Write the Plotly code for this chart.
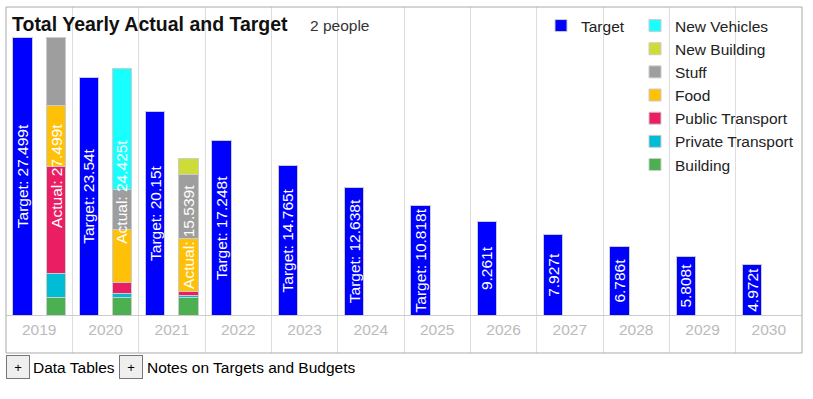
import plotly.graph_objects as go

# ---------------- data ----------------
years = ["2019", "2020", "2021", "2022", "2023", "2024",
         "2025", "2026", "2027", "2028", "2029", "2030"]
target = [27.499, 23.54, 20.15, 17.248, 14.765, 12.638,
          10.818, 9.261, 7.927, 6.786, 5.808, 4.972]
# which target bars carry the "Target: " prefix in their label
target_prefixed = [True, True, True, True, True, True, True,
                   False, False, False, False, False]

actual_years = ["2019", "2020", "2021"]
actual_total = [27.499, 24.425, 15.539]
building = [1.71, 1.71, 1.71]
private_transport = [2.41, 0.43, 0.20]
public_transport = [10.54, 1.05, 0.46]
food = [6.10, 5.28, 5.21]
stuff = [6.739, 3.96, 6.379]
new_building = [0.0, 0.0, 1.58]
new_vehicles = [0.0, 11.995, 0.0]

categories = ["Building", "Private Transport", "Public Transport", "Food",
              "Stuff", "New Building", "New Vehicles"]
category_values = [building, private_transport, public_transport, food,
                   stuff, new_building, new_vehicles]
category_colors = ["#4caf50", "#00bcd4", "#e91e63", "#ffc107",
                   "#9e9e9e", "#cddc39", "#18ffff"]

# ---------------- geometry helpers (layout only) ----------------
W, H = 813, 399
L, R, T, B = 6, 802, 7, 353          # plot area in pixels
BASE_PX = 315                        # pixel row of the zero line
PX_PER_T = 10.1


def px_x(px):
    return (px - L) / (R - L)


def px_y(py):
    return (B - py) / (B - T)


y_lo = -(B - BASE_PX) / PX_PER_T
y_hi = (BASE_PX - T) / PX_PER_T

TARGET_OFF = -0.25
ACTUAL_OFF = 0.25
BAR_W = 0.29
FONT = "Liberation Sans, Arial, sans-serif"

year_idx = {y: i for i, y in enumerate(years)}

fig = go.Figure()

# target bars
target_text = [("Target: " if p else "") + f"{v:g}t" for v, p in zip(target, target_prefixed)]
fig.add_trace(go.Bar(
    name="Target",
    x=[year_idx[y] + TARGET_OFF for y in years],
    y=target,
    width=BAR_W,
    marker=dict(color="#0000ff", line=dict(color="#cccccc", width=1)),
    text=target_text,
    textposition="inside",
    insidetextanchor="middle",
    textangle=-90,
    textfont=dict(color="white", size=15.5, family=FONT),
    legend="legend",
    hoverinfo="skip",
))

# actual stacked bars
for name, vals, col in zip(categories, category_values, category_colors):
    fig.add_trace(go.Bar(
        name=name,
        x=[year_idx[y] + ACTUAL_OFF for y in actual_years],
        y=vals,
        width=BAR_W,
        marker=dict(color=col, line=dict(color="#cccccc", width=1)),
        legend="legend2",
        hoverinfo="skip",
    ))

annotations = []
for y, tot in zip(actual_years, actual_total):
    annotations.append(dict(
        x=year_idx[y] + ACTUAL_OFF, y=tot / 2, xref="x", yref="y",
        text=f"Actual: {tot:g}t", textangle=-90, showarrow=False,
        font=dict(color="white", size=15.5, family=FONT),
    ))

# subtitle
annotations.append(dict(
    x=px_x(308), y=px_y(25), xref="paper", yref="paper",
    xanchor="left", yanchor="middle", text="2 people", showarrow=False,
    font=dict(size=15.5, color="#333333", family=FONT),
))

# buttons below chart
for bx, label, lx in [(18, "Data Tables", 31), (131, "Notes on Targets and Budgets", 145)]:
    annotations.append(dict(
        x=px_x(bx), y=px_y(367), xref="paper", yref="paper",
        xanchor="center", yanchor="middle", text="+", showarrow=False,
        width=22, height=22, borderpad=0, borderwidth=1,
        bgcolor="#efefef", bordercolor="#767676",
        font=dict(size=13, color="#000000", family=FONT),
    ))
    annotations.append(dict(
        x=px_x(lx), y=px_y(367), xref="paper", yref="paper",
        xanchor="left", yanchor="middle", text=label, showarrow=False,
        font=dict(size=15.5, color="#000000", family=FONT),
    ))

fig.update_layout(
    width=W, height=H,
    margin=dict(l=L, r=W - R, t=T, b=H - B, pad=0),
    paper_bgcolor="white", plot_bgcolor="white",
    barmode="stack",
    font=dict(family=FONT, size=15.5, color="#222222"),
    uniformtext=dict(minsize=15.5, mode="show"),
    title=dict(
        text="<b>Total Yearly Actual and Target</b>",
        x=12 / W, xref="container", xanchor="left",
        y=1 - 24 / H, yref="container", yanchor="middle",
        font=dict(size=19.5, color="#111111", family=FONT),
    ),
    showlegend=True,
    legend=dict(
        x=px_x(541), y=px_y(9), xanchor="left", yanchor="top",
        bgcolor="rgba(0,0,0,0)", font=dict(size=15.5, color="#222222", family=FONT),
    ),
    legend2=dict(
        x=px_x(635), y=px_y(9), xanchor="left", yanchor="top",
        traceorder="reversed",
        bgcolor="rgba(0,0,0,0)", font=dict(size=15.5, color="#222222", family=FONT),
    ),
    xaxis=dict(
        range=[-0.5, len(years) - 0.5],
        tickmode="array", tickvals=list(range(len(years))), ticktext=years,
        showgrid=False,
        minor=dict(tickmode="array", tickvals=[i + 0.5 for i in range(len(years) - 1)],
                   showgrid=True, gridcolor="#dddddd", gridwidth=1, ticks=""),
        anchor="free", position=px_y(BASE_PX),
        showline=True, linecolor="#cccccc", linewidth=1,
        ticks="", zeroline=False,
        tickfont=dict(color="#bbbbbb", size=15.5, family=FONT),
        fixedrange=True,
    ),
    yaxis=dict(range=[y_lo, y_hi], visible=False, fixedrange=True),
    shapes=[dict(type="rect", xref="paper", yref="paper", x0=0, x1=1, y0=0, y1=1,
                 line=dict(color="#aaaaaa", width=1), layer="above")],
    annotations=annotations,
)

fig.write_html("out.html", config={"displayModeBar": False},
               post_script="document.body.style.margin='0';")
